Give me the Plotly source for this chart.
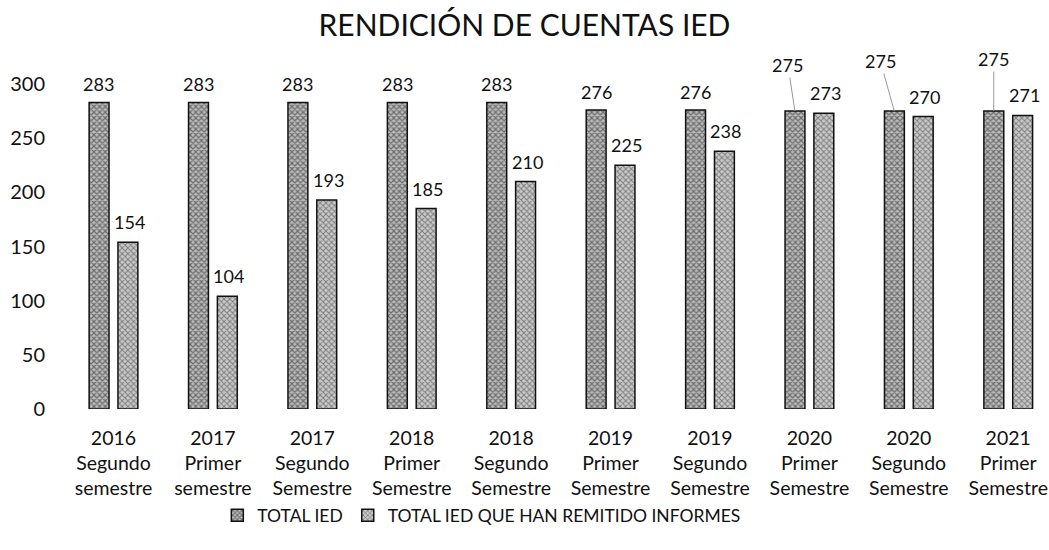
import plotly.graph_objects as go

years = ["2016", "2017", "2017", "2018", "2018", "2019", "2019", "2020", "2020", "2021"]
periods = ["Segundo", "Primer", "Segundo", "Primer", "Segundo", "Primer", "Segundo", "Primer", "Segundo", "Primer"]
sem_words = ["semestre", "semestre", "Semestre", "Semestre", "Semestre", "Semestre", "Semestre", "Semestre", "Semestre", "Semestre"]
categories = [f"{y}<br>{p}<br>{s}" for y, p, s in zip(years, periods, sem_words)]

total_ied = [283, 283, 283, 283, 283, 276, 276, 275, 275, 275]
remitido = [154, 104, 193, 185, 210, 225, 238, 273, 270, 271]

series_names = ["TOTAL IED", "TOTAL IED QUE HAN REMITIDO INFORMES"]

FONT = "Lato"

fig = go.Figure()
fig.add_trace(go.Bar(
    x=categories, y=total_ied, name=series_names[0],
    marker=dict(color="#bdbdbd", line=dict(color="#111", width=1.5),
                pattern=dict(shape="x", size=4, solidity=0.5, fgcolor="#1a1a1a", bgcolor="#bcbcbc")),
))
fig.add_trace(go.Bar(
    x=categories, y=remitido, name=series_names[1],
    marker=dict(color="#c8c8c8", line=dict(color="#111", width=1.5),
                pattern=dict(shape="x", size=4, solidity=0.42, fgcolor="#2a2a2a", bgcolor="#cacaca")),
))

# leader offsets (pixels) for the TOTAL IED labels of the last three groups
leader = {7: (-7, -46), 8: (-14, -50), 9: (0, -52)}

annotations = []
for i, (c, v) in enumerate(zip(categories, total_ied)):
    if i in leader:
        ax, ay = leader[i]
        annotations.append(dict(x=c, y=v, xref="x", yref="y", xshift=-14.5, text=str(v),
                                showarrow=True, arrowhead=0, arrowwidth=1, arrowcolor="#999",
                                ax=ax, ay=ay, font=dict(family=FONT, size=18, color="#111")))
    else:
        annotations.append(dict(x=c, y=v, xref="x", yref="y", xshift=-14.5, yshift=18,
                                yanchor="middle", text=str(v), showarrow=False,
                                font=dict(family=FONT, size=18, color="#111")))
for i, (c, v) in enumerate(zip(categories, remitido)):
    annotations.append(dict(x=c, y=v, xref="x", yref="y", xshift=16, yshift=20,
                            yanchor="middle", text=str(v), showarrow=False,
                            font=dict(family=FONT, size=18, color="#111")))

fig.update_layout(
    width=1049, height=550,
    margin=dict(l=60, r=0, t=84, b=141, autoexpand=False),
    paper_bgcolor="white", plot_bgcolor="white",
    barmode="group", bargap=0.42, bargroupgap=0.31,
    title=dict(text="RENDICIÓN DE CUENTAS IED", x=0.5, xref="container", xanchor="center",
               y=0.953, yanchor="middle", font=dict(family=FONT, size=30, color="#111")),
    font=dict(family=FONT, color="#111"),
    showlegend=True,
    legend=dict(orientation="h", x=0.426, xanchor="center", y=-0.327, yanchor="middle",
                font=dict(family=FONT, size=17.5, color="#111")),
    annotations=annotations,
)
fig.update_xaxes(range=[-0.538, 9.41], showgrid=False, showline=False, zeroline=False,
                 tickfont=dict(family=FONT, size=19.5, color="#111"), ticks="",
                 ticklabelstandoff=15, automargin=False)
fig.update_yaxes(range=[0, 300], dtick=50, showgrid=False, showline=False, zeroline=False,
                 tickfont=dict(family=FONT, size=20, color="#111"), ticklabelstandoff=14,
                 automargin=False)

fig.write_html("out.html", config={"displayModeBar": False},
               post_script="document.body.style.margin='0';document.body.style.padding='0';")
